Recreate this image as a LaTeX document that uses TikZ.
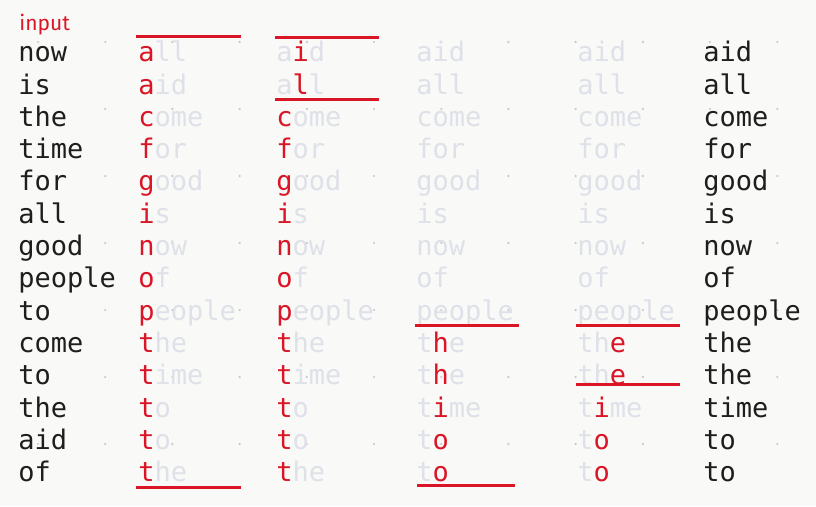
\documentclass[tikz,border=0pt]{standalone}
\usepackage{fontspec}
\setmonofont{DejaVu Sans Mono}
\newfontfamily\labelfont{Fira Sans}

\definecolor{hl}{RGB}{218,22,38}
\definecolor{fade}{RGB}{222,225,232}
\definecolor{ink}{RGB}{30,30,30}
\definecolor{paper}{RGB}{249,249,248}
\definecolor{dotgray}{RGB}{200,200,200}
\newcommand{\hlc}[1]{\textcolor{hl}{#1}}
\newcommand{\fdc}[1]{\textcolor{fade}{#1}}

\begin{document}
\begin{tikzpicture}[x=1pt, y=-1pt, thick,
  word/.style={anchor=base west, inner sep=0pt, text=ink,
    font=\ttfamily\fontsize{27}{32}\selectfont},
  sep/.style={draw=hl, line width=3pt}]

  \fill[paper] (0,0) rectangle (816,506);
  \useasboundingbox (0,0) rectangle (816,506);

  % 背景点阵
  \foreach \gx in {0,...,11}
    \foreach \gy in {0,...,6}
      \fill[dotgray] ({38+67.2*\gx},{42+67*\gy}) circle (1.2pt);

  % 输入列
  \node[anchor=base west, inner sep=0pt, text=hl,
    font=\labelfont\fontsize{21}{24}\selectfont] (lbl) at (19,30.7) {input};
  \foreach \w [count=\i] in {now,is,the,time,for,all,good,people,to,come,to,the,aid,of}
    \node[word] (in-\i) at (18,{61.7+32.3*(\i-1)}) {\w};

  % 第一趟：按首字母
  \foreach \a/\b/\c [count=\i] in {{}/a/ll,{}/a/id,{}/c/ome,{}/f/or,{}/g/ood,{}/i/s,
      {}/n/ow,{}/o/f,{}/p/eople,{}/t/he,{}/t/ime,{}/t/o,{}/t/o,{}/t/he}
    \node[word] (pa-\i) at (138,{61.7+32.3*(\i-1)}) {\fdc{\a}\hlc{\b}\fdc{\c}};

  % 第二趟：a 组按第二个字母
  \foreach \a/\b/\c [count=\i] in {a/i/d,a/l/l,{}/c/ome,{}/f/or,{}/g/ood,{}/i/s,
      {}/n/ow,{}/o/f,{}/p/eople,{}/t/he,{}/t/ime,{}/t/o,{}/t/o,{}/t/he}
    \node[word] (pb-\i) at (276,{61.7+32.3*(\i-1)}) {\fdc{\a}\hlc{\b}\fdc{\c}};

  % 第三趟：t 组按第二个字母
  \foreach \a/\b/\c [count=\i] in {aid/{}/{},all/{}/{},come/{}/{},for/{}/{},good/{}/{},
      is/{}/{},now/{}/{},of/{}/{},people/{}/{},t/h/e,t/h/e,t/i/me,t/o/{},t/o/{}}
    \node[word] (pc-\i) at (416,{61.7+32.3*(\i-1)}) {\fdc{\a}\hlc{\b}\fdc{\c}};

  % 第四趟：th 组按第三个字母
  \foreach \a/\b/\c [count=\i] in {aid/{}/{},all/{}/{},come/{}/{},for/{}/{},good/{}/{},
      is/{}/{},now/{}/{},of/{}/{},people/{}/{},th/e/{},th/e/{},t/i/me,t/o/{},t/o/{}}
    \node[word] (pd-\i) at (577,{61.7+32.3*(\i-1)}) {\fdc{\a}\hlc{\b}\fdc{\c}};

  % 输出列
  \foreach \w [count=\i] in {aid,all,come,for,good,is,now,of,people,the,the,time,to,to}
    \node[word] (out-\i) at (703,{61.7+32.3*(\i-1)}) {\w};

  % 分组线
  \coordinate (A1) at (136,36);  \coordinate (A2) at (241,36);
  \coordinate (A3) at (136,487); \coordinate (A4) at (241,487);
  \coordinate (B1) at (275,37);  \coordinate (B2) at (379,37);
  \coordinate (B3) at (275,99);  \coordinate (B4) at (379,99);
  \coordinate (C1) at (415,325); \coordinate (C2) at (519,325);
  \coordinate (C3) at (417,485); \coordinate (C4) at (515,485);
  \coordinate (D1) at (576,325); \coordinate (D2) at (680,325);
  \coordinate (D3) at (576,384); \coordinate (D4) at (680,384);

  \draw[sep] (A1) -- (A2);
  \draw[sep] (A3) -- (A4);
  \draw[sep] (B1) -- (B2);
  \draw[sep] (B3) -- (B4);
  \draw[sep] (C1) -- (C2);
  \draw[sep] (C3) -- (C4);
  \draw[sep] (D1) -- (D2);
  \draw[sep] (D3) -- (D4);
\end{tikzpicture}
\end{document}
